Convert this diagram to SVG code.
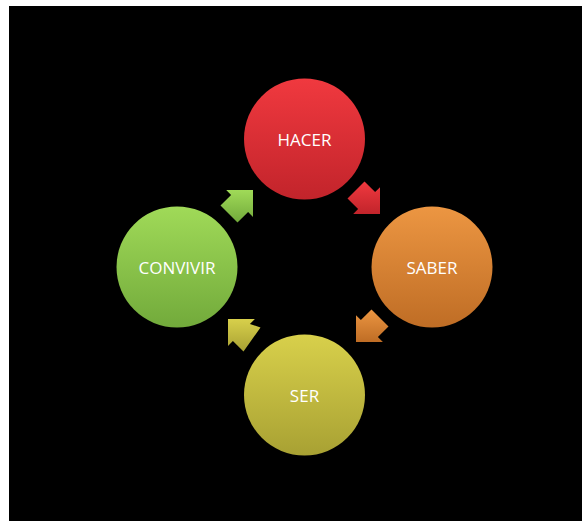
<svg xmlns="http://www.w3.org/2000/svg" width="582" height="521" viewBox="0 0 582 521">
  <defs>
    <linearGradient id="gRed" x1="0" y1="0" x2="0" y2="1">
      <stop offset="0" stop-color="#f0393f"/>
      <stop offset="1" stop-color="#c2242b"/>
    </linearGradient>
    <linearGradient id="gOrange" x1="0" y1="0" x2="0" y2="1">
      <stop offset="0" stop-color="#ec9642"/>
      <stop offset="1" stop-color="#bf6d25"/>
    </linearGradient>
    <linearGradient id="gYellow" x1="0" y1="0" x2="0" y2="1">
      <stop offset="0" stop-color="#d8d04b"/>
      <stop offset="1" stop-color="#a8a133"/>
    </linearGradient>
    <linearGradient id="gGreen" x1="0" y1="0" x2="0" y2="1">
      <stop offset="0" stop-color="#a0da58"/>
      <stop offset="1" stop-color="#72aa3b"/>
    </linearGradient>
  </defs>
  <style>
    .lbl { font-family: "Open Sans", "Liberation Sans", sans-serif; font-size: 17px; fill: #ffffff; text-anchor: middle; }
  </style>
  <rect x="0" y="0" width="582" height="521" fill="#ffffff"/>
  <rect x="9" y="6" width="573" height="515" fill="#000000"/>

  <g id="connectors">
    <polygon fill="url(#gRed)" points="364.5,181.5 375.1,192.1 380,187.2 380,214 353.2,214 358.1,209.1 347.5,198.5"/>
    <polygon fill="url(#gOrange)" points="388.5,326.5 377.9,337.1 382.9,342 356,342 356,315.2 360.9,320.1 371.5,309.5"/>
    <polygon fill="url(#gYellow)" points="243.5,351.5 232.9,340.9 228,345.9 228,319 254.9,319 249.9,323.9 260.5,327.5"/>
    <polygon fill="url(#gGreen)" points="220.5,205.5 231.1,194.9 226.2,190 253,190 253,216.9 248.1,211.9 237.5,222.5"/>
  </g>

  <g id="hacer">
    <circle cx="304.5" cy="139" r="60.5" fill="url(#gRed)"/>
    <text class="lbl" x="304.5" y="145.5">HACER</text>
  </g>
  <g id="saber">
    <circle cx="432" cy="267" r="60.5" fill="url(#gOrange)"/>
    <text class="lbl" x="432" y="273.5">SABER</text>
  </g>
  <g id="ser">
    <circle cx="304.5" cy="395" r="60.5" fill="url(#gYellow)"/>
    <text class="lbl" x="304.5" y="401.5">SER</text>
  </g>
  <g id="convivir">
    <circle cx="177" cy="267" r="60.5" fill="url(#gGreen)"/>
    <text class="lbl" x="177" y="273.5">CONVIVIR</text>
  </g>
</svg>
